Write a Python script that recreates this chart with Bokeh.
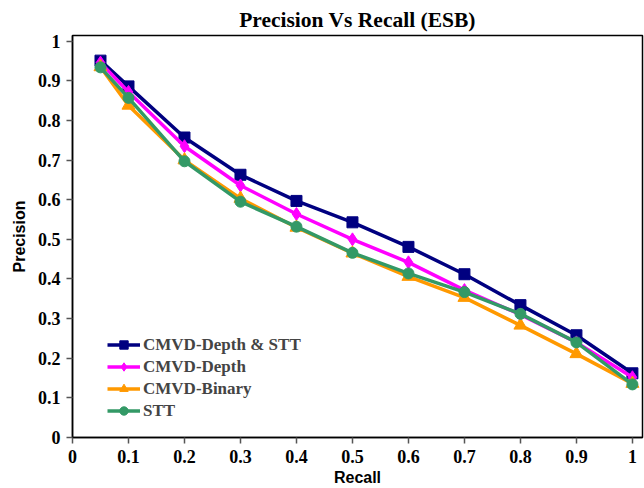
from bokeh.plotting import figure
from bokeh.models import Range1d, Legend
from bokeh.embed import file_html
from bokeh.resources import INLINE

recall = [0.05, 0.1, 0.2, 0.3, 0.4, 0.5, 0.6, 0.7, 0.8, 0.9, 1.0]
depth_stt = [0.951, 0.886, 0.757, 0.663, 0.597, 0.543, 0.481, 0.412, 0.334, 0.258, 0.162]
depth = [0.946, 0.872, 0.735, 0.636, 0.564, 0.5, 0.442, 0.372, 0.31, 0.24, 0.152]
binary = [0.935, 0.838, 0.700, 0.603, 0.530, 0.465, 0.406, 0.353, 0.283, 0.211, 0.136]
stt = [0.934, 0.857, 0.697, 0.595, 0.532, 0.466, 0.414, 0.367, 0.312, 0.240, 0.134]

series_names = ["CMVD-Depth & STT", "CMVD-Depth", "CMVD-Binary", "STT"]
series_values = [depth_stt, depth, binary, stt]
series_colors = ["#000080", "#FF00FF", "#FF9900", "#339966"]
series_markers = ["square", "diamond", "triangle", "circle"]
marker_sizes = [11, 13, 13, 11]

x_ticks = [0, 0.1, 0.2, 0.3, 0.4, 0.5, 0.6, 0.7, 0.8, 0.9, 1]
x_tick_labels = ["0", "0.1", "0.2", "0.3", "0.4", "0.5", "0.6", "0.7", "0.8", "0.9", "1"]
y_ticks = [0, 0.1, 0.2, 0.3, 0.4, 0.5, 0.6, 0.7, 0.8, 0.9, 1]
y_tick_labels = ["0", "0.1", "0.2", "0.3", "0.4", "0.5", "0.6", "0.7", "0.8", "0.9", "1"]

p = figure(width=644, height=488, output_backend="svg", toolbar_location=None,
           x_range=Range1d(0, 1.018), y_range=Range1d(0, 1.0144),
           min_border_left=72, min_border_right=2, min_border_top=35, min_border_bottom=51,
           title="Precision Vs Recall (ESB)")
p.title.align = "center"
p.title.text_font = "Liberation Serif"
p.title.text_font_style = "bold"
p.title.text_font_size = "21.5px"
p.title.text_color = "black"
p.title.standoff = 8

p.xgrid.visible = False
p.ygrid.visible = False
p.outline_line_color = "black"
p.outline_line_width = 1.5
p.outline_line_alpha = 1

for ax, ticks, labels in ((p.xaxis[0], x_ticks, x_tick_labels), (p.yaxis[0], y_ticks, y_tick_labels)):
    ax.ticker = ticks
    ax.major_label_overrides = {t: l for t, l in zip(ticks, labels)}
    ax.major_label_text_font = "Liberation Serif"
    ax.major_label_text_font_style = "bold"
    ax.major_label_text_font_size = "18px"
    ax.major_label_text_color = "black"
    ax.axis_line_color = "black"
    ax.axis_line_width = 1.5
    ax.major_tick_line_color = "#555555"
    ax.major_tick_line_width = 1.5
    ax.major_tick_out = 6
    ax.major_tick_in = 0
    ax.minor_tick_line_color = None
    ax.axis_label_text_font = "Liberation Sans"
    ax.axis_label_text_font_style = "bold"
    ax.axis_label_text_font_size = "16px"
    ax.axis_label_text_color = "black"

p.xaxis.axis_label = "Recall"
p.yaxis.axis_label = "Precision"
p.xaxis.major_label_standoff = 6
p.xaxis.axis_label_standoff = 3
p.yaxis.major_label_standoff = 6
p.yaxis.axis_label_standoff = 7

items = []
for name, vals, col, mk, ms in zip(series_names, series_values, series_colors, series_markers, marker_sizes):
    r1 = p.line(recall, vals, line_color=col, line_width=3.5)
    r2 = p.scatter(recall, vals, marker=mk, size=ms, fill_color=col, line_color=col)
    items.append((name, [r1, r2]))

legend = Legend(items=items, location=(35, 16))
legend.border_line_color = None
legend.background_fill_alpha = 0
legend.label_text_font = "Liberation Serif"
legend.label_text_font_style = "bold"
legend.label_text_font_size = "17px"
legend.glyph_width = 33
legend.glyph_height = 21
legend.label_height = 21
legend.spacing = 1
legend.padding = 0
legend.margin = 0
legend.label_standoff = 3
p.add_layout(legend, "center")

open("out.html", "w").write(file_html(p, INLINE))
